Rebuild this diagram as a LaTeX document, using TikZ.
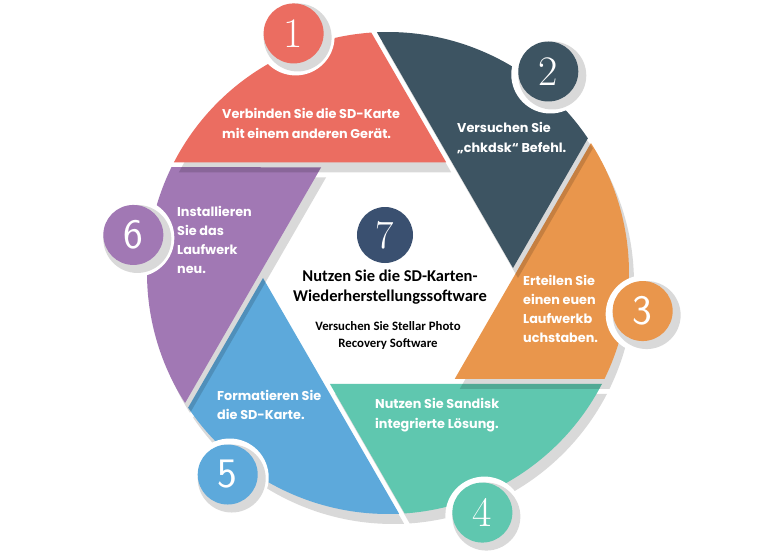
\documentclass[tikz,border=0pt]{standalone}
\usepackage{fontspec}
\newfontfamily\bladefont{Poppins}
\newfontfamily\centerfont{Carlito}
\definecolor{cRed}{HTML}{EB6D61}
\definecolor{cDark}{HTML}{3D5462}
\definecolor{cOrange}{HTML}{E9964C}
\definecolor{cTeal}{HTML}{5FC7AF}
\definecolor{cBlue}{HTML}{5DA9DB}
\definecolor{cPurple}{HTML}{A178B4}
\definecolor{cNavy}{HTML}{3A5070}
\newcommand\drawblade[2]{%
  \fill[black,opacity=0.15,shift={(5,-10)}] (#1+2.29:125.1) -- (#1+33.97:241)
     arc[start angle=#1+33.97, end angle=#1+92.64, radius=241] -- cycle;
  \fill[#2] (#1+2.29:125.1) -- (#1+33.97:241)
     arc[start angle=#1+33.97, end angle=#1+92.64, radius=241] -- cycle;
}
\newcommand\numdisk[5]{% name, angle, colour, font, digit
  \fill[white,shift={(2,-3)}] (#2:257.5) circle[radius=39];
  \fill[black,opacity=0.15,shift={(4,-4)}] (#2:257.5) circle[radius=34];
  \node[numc,fill=#3,font=#4] (#1) at (#2:257.5) {#5};
}
\tikzset{
  numc/.style={circle,inner sep=0pt,minimum size=60pt,text=white},
  bladetext/.style={anchor=west,align=left,inner sep=0pt,text=white,
    font=\bladefont\bfseries\fontsize{12.8}{20}\selectfont},
  bladetextb/.style={bladetext,font=\bladefont\bfseries\fontsize{12.8}{19}\selectfont},
}
\begin{document}
\begin{tikzpicture}[x=1pt,y=1pt]
\useasboundingbox (-388,-282) rectangle (372,273);
\fill[white] (-388,-282) rectangle (372,273);
% blades (order chosen so that shadows fall on neighbours)
\drawblade{-120}{cTeal}
\drawblade{-60}{cOrange}
\drawblade{0}{cDark}
\drawblade{180}{cBlue}
\drawblade{120}{cPurple}
\drawblade{60}{cRed}
% numbered discs
\numdisk{n1}{111.5}{cRed}{\rmfamily\fontsize{42}{42}\selectfont}{1}
\numdisk{n2}{51.5}{cDark}{\rmfamily\fontsize{42}{42}\selectfont}{2}
\numdisk{n3}{-8.5}{cOrange}{\sffamily\fontsize{42}{42}\selectfont}{3}
\numdisk{n4}{-68.5}{cTeal}{\rmfamily\fontsize{42}{42}\selectfont}{4}
\numdisk{n5}{-128.5}{cBlue}{\sffamily\fontsize{42}{42}\selectfont}{5}
\numdisk{n6}{171.5}{cPurple}{\sffamily\fontsize{42}{42}\selectfont}{6}
\node[numc,minimum size=56pt,fill=cNavy,font=\rmfamily\fontsize{40}{40}\selectfont] (n7) at (-3,38) {7};
% blade texts
\node[bladetext] (t1) at (-166,150) {Verbinden Sie die SD-Karte\\mit einem anderen Gerät.};
\node[bladetext] (t2) at (69,135) {Versuchen Sie\\„chkdsk“ Befehl.};
\node[bladetextb] (t3) at (135,-35.5) {Erteilen Sie\\einen euen\\Laufwerkb\\uchstaben.};
\node[bladetext] (t4) at (-13,-142) {Nutzen Sie Sandisk\\integrierte Lösung.};
\node[bladetextb] (t5) at (-171,-131.5) {Formatieren Sie\\die SD-Karte.};
\node[bladetextb] (t6) at (-211,33.5) {Installieren\\Sie das\\Laufwerk\\neu.};
% centre texts
\node[align=center,inner sep=0pt,font=\centerfont\bfseries\fontsize{16.5}{20}\selectfont] (c1) at (2,-14) {Nutzen Sie die SD-Karten-\\Wiederherstellungssoftware};
\node[align=center,inner sep=0pt,font=\centerfont\bfseries\fontsize{12.8}{17}\selectfont] (c2) at (0,-62.5) {Versuchen Sie Stellar Photo\\Recovery Software};
\end{tikzpicture}
\end{document}
